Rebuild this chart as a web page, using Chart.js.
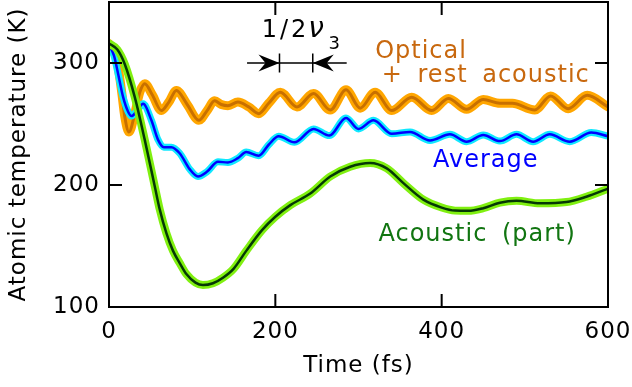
<!DOCTYPE html>
<html><head><meta charset="utf-8">
<script src="https://cdn.jsdelivr.net/npm/chart.js@4/dist/chart.umd.min.js"></script>
<style>html,body{margin:0;padding:0;background:#fff}#wrap{width:632px;height:387px}</style>
</head><body><div id="wrap"><canvas id="c" width="632" height="387"></canvas></div>
<script>
// ---- data ----
const opticalTime = [0,6,9,15,19,24,31,37,43,52,63,72,81,94,108,118,127,135,143,155,168,180,192,206,226,246,266,285,302,320,340,364,388,408,430,450,470,485,512,531,552,575,600];
const opticalTemp = [316,309,305,277.5,256,243.5,258.5,276,283,274,261,268,277.5,266,253,261,269,266,265,268,264,258.5,267,276,264,275,261.5,278,263,276,261,272,261,271,262,270,267,267,261.5,273,262.5,273.5,264];

const averageTime = [0,6,11,17,23,27,34,41,51,59,66,75,85,97,107,118,131,143,155,165,180,192,204,223,246,265,285,300,318,340,362,386,410,430,450,470,490,510,530,554,580,600];
const averageTemp = [315,306,291,272,260,256.5,261,266.5,253,237,231,231,226,213,207,211,219,218.5,222,227,224,233,240,235,246,240.5,255,246,253,242,243.5,236.5,241.5,235.5,241,236,241.5,235.5,241.5,235.5,243,240];

const acousticTime = [0,10,19,31,43,55,61,69,77,85,93,104,113,125,137,150,165,184,200,218,242,266,290,314,334,354,378,400,416,432,450,470,490,518,550,574,600];
const acousticTemp = [316,311,299,272,237,199,180,160.5,146,136,127,120,118,119.5,124,131.5,146,163,174,183.5,193,207,215,218,213.6,201.5,188,181.5,179,178.8,181,185.5,187,185,186,190.4,197];

const xTicks = [0,200,400,600];
const yTicks = [100,200,300];
const xRange = [0,600];
const yRange = [100,350];

const FAM = '"DejaVu Sans", sans-serif';
const pts = (t, v) => t.map((x, i) => ({x, y: v[i]}));

function lineDs(t, v, color, width, order) {
  return {data: pts(t, v), borderColor: color, borderWidth: width, order,
          pointRadius: 0, fill: false, cubicInterpolationMode: 'monotone',
          borderCapStyle: 'round', borderJoinStyle: 'round'};
}
function noPad(s) { s.paddingTop = 0; s.paddingBottom = 0; s.paddingLeft = 0; s.paddingRight = 0; }

const frame = {
  id: 'frame',
  beforeDraw(chart) { chart.ctx.letterSpacing = '1px'; },
  afterDatasetsDraw(chart) {
    const c = chart.ctx, {left, right, top, bottom} = chart.chartArea;
    const xs = chart.scales.x, ys = chart.scales.y;
    c.save();
    c.strokeStyle = '#000'; c.lineWidth = 2; c.lineCap = 'butt';
    c.strokeRect(left, top, right - left, bottom - top);
    const L = 13;
    c.beginPath();
    xTicks.forEach(v => { const p = xs.getPixelForValue(v);
      c.moveTo(p, bottom); c.lineTo(p, bottom - L); c.moveTo(p, top); c.lineTo(p, top + L); });
    yTicks.forEach(v => { const p = ys.getPixelForValue(v);
      c.moveTo(left, p); c.lineTo(left + L, p); c.moveTo(right, p); c.lineTo(right - L, p); });
    c.stroke();

    // labels
    c.textBaseline = 'alphabetic'; c.textAlign = 'left';
    c.wordSpacing = '6px';
    const txt = (s, x, y, col, size, style) => {
      c.font = (style || '') + ' ' + size + 'px ' + FAM;
      c.fillStyle = col;
      c.fillText(s, xs.getPixelForValue(x), ys.getPixelForValue(y));
    };
    c.letterSpacing = '1px';
    txt('Optical', 320, 303.7, '#c8680e', 24);
    txt('+ rest acoustic', 328, 284.3, '#c8680e', 24);
    txt('Average', 389.6, 214.7, '#0000ff', 24);
    txt('Acoustic (part)', 324, 154.5, '#117511', 24);
    c.letterSpacing = '3px';
    txt('1/2', 183.6, 321, '#000', 24);
    c.letterSpacing = '0px';
    txt('\u03bd', 239.5, 321, '#000', 28, 'italic');
    c.letterSpacing = '2px';
    txt('3', 264, 311.8, '#000', 18);

    // 1/2 nu3 arrows
    const ay = ys.getPixelForValue(300);
    const a1 = xs.getPixelForValue(205), a2 = xs.getPixelForValue(245);
    const t1 = xs.getPixelForValue(166), t2 = xs.getPixelForValue(285.8);
    c.strokeStyle = '#000'; c.lineWidth = 1.5;
    c.beginPath();
    c.moveTo(t1, ay); c.lineTo(t2, ay);
    c.moveTo(a1, ay - 9.5); c.lineTo(a1, ay + 9.5);
    c.moveTo(a2, ay - 9.5); c.lineTo(a2, ay + 9.5);
    c.stroke();
    c.fillStyle = '#000';
    const head = (tip, dir) => {
      c.beginPath();
      c.moveTo(tip, ay);
      c.lineTo(tip - dir * 21, ay - 8.5);
      c.lineTo(tip - dir * 14, ay);
      c.lineTo(tip - dir * 21, ay + 8.5);
      c.closePath(); c.fill();
    };
    head(a1, 1); head(a2, -1);
    c.restore();
  }
};

new Chart(document.getElementById('c'), {
  type: 'line',
  data: {datasets: [
    lineDs(acousticTime, acousticTemp, '#053805', 2.5, 0),
    lineDs(acousticTime, acousticTemp, '#80f010', 8, 1),
    lineDs(averageTime, averageTemp, '#0000ff', 2.5, 2),
    lineDs(averageTime, averageTemp, '#10e8ff', 7, 3),
    lineDs(opticalTime, opticalTemp, '#c87000', 3, 4),
    lineDs(opticalTime, opticalTemp, '#ffa600', 9, 5)
  ]},
  options: {
    responsive: false, animation: false, devicePixelRatio: 1,
    layout: {padding: {top: 2, right: 24, left: 0, bottom: 0}},
    plugins: {legend: {display: false}, tooltip: {enabled: false}},
    scales: {
      x: {type: 'linear', min: xRange[0], max: xRange[1],
        grid: {display: false, drawTicks: false}, border: {display: false},
        afterBuildTicks: s => { s.ticks = xTicks.map(v => ({value: v})); },
        afterFit: s => { s.height = 80; noPad(s); },
        ticks: {font: {family: FAM, size: 23}, color: '#000', padding: 11, maxRotation: 0, autoSkip: false},
        title: {display: true, text: 'Time (fs)', color: '#000', font: {family: FAM, size: 23}, padding: {top: 0, bottom: 7}}
      },
      y: {type: 'linear', min: yRange[0], max: yRange[1],
        grid: {display: false, drawTicks: false}, border: {display: false},
        afterBuildTicks: s => { s.ticks = yTicks.map(v => ({value: v})); },
        afterFit: s => { s.width = 109; noPad(s); },
        ticks: {font: {family: FAM, size: 23}, color: '#000', padding: 9},
        title: {display: true, text: 'Atomic temperature (K)', color: '#000', font: {family: FAM, size: 23}, padding: {top: 5, bottom: 0}}
      }
    }
  },
  plugins: [frame]
});
</script>
</body></html>
